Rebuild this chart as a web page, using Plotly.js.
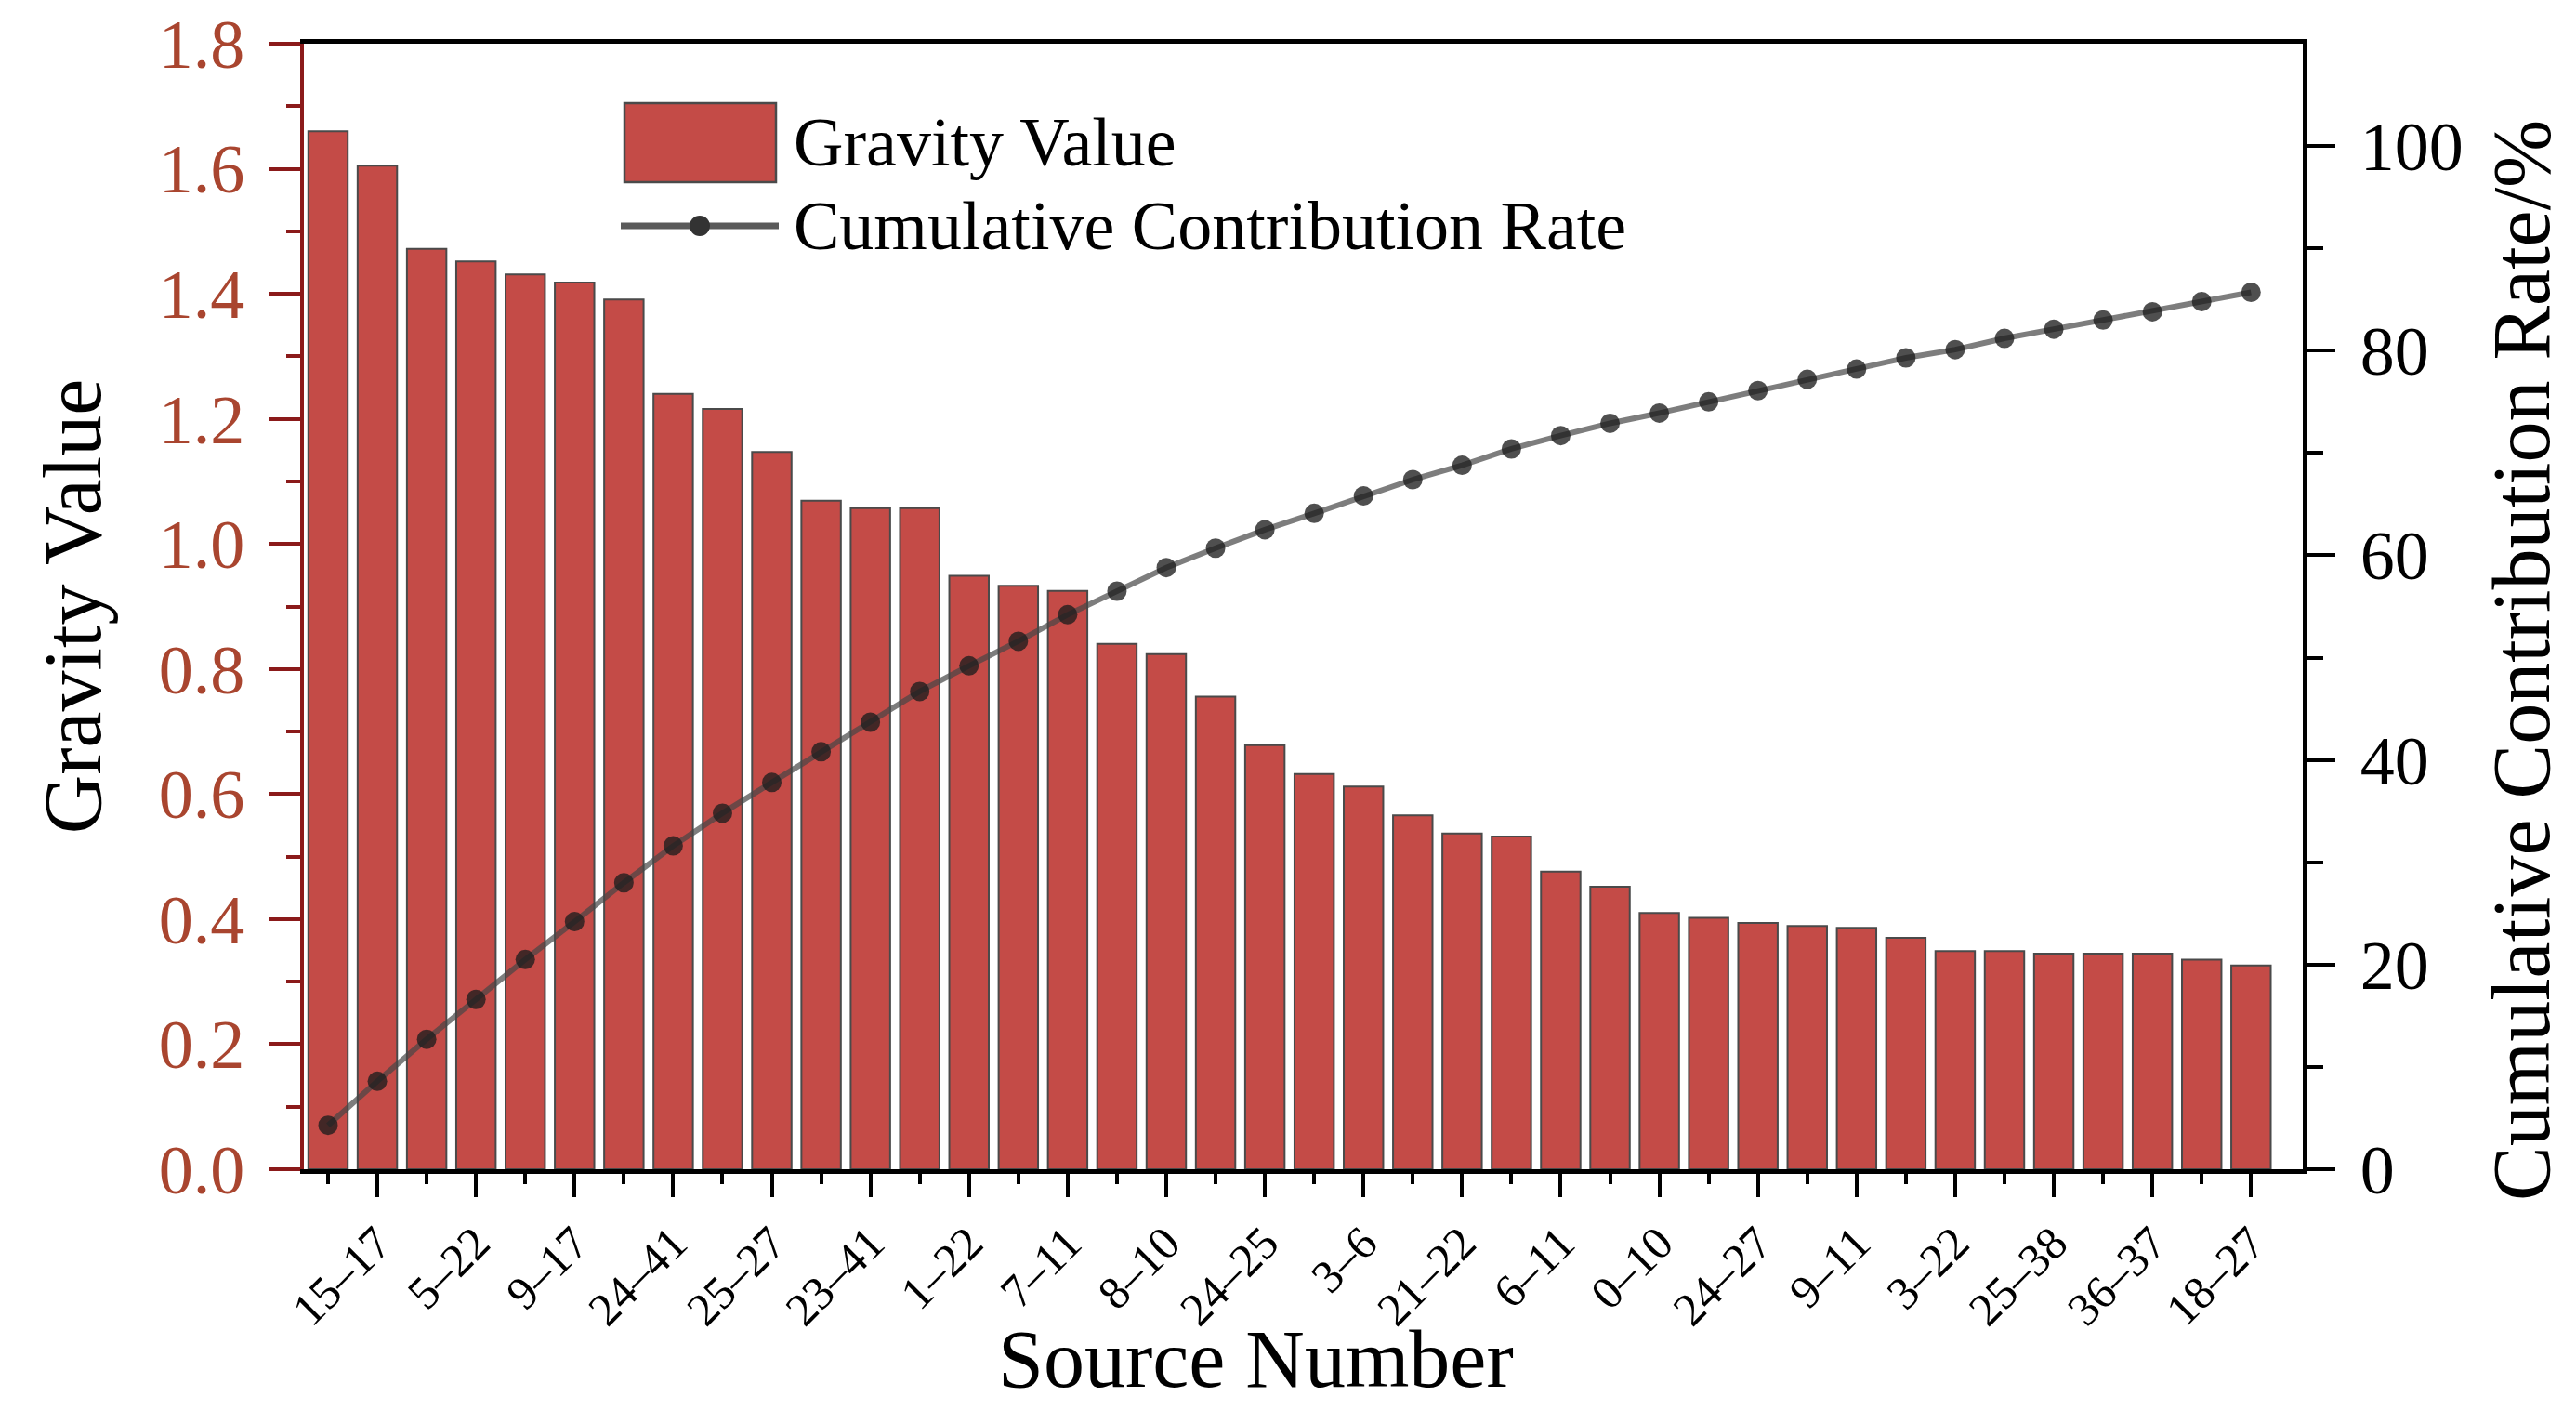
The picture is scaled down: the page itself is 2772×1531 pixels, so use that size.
<!DOCTYPE html>
<html>
<head>
<meta charset="utf-8">
<script src="https://cdn.plot.ly/plotly-3.0.1.min.js"></script>
<style>
  html, body { margin: 0; padding: 0; background: #ffffff; }
  #chart { width: 2772px; height: 1531px; }
</style>
</head>
<body>
<div id="chart"></div>
<script>
/* ---------------------------- data ---------------------------- */

// gravity value of each source pair, sorted descending (40 bars)
const GRAVITY = [
  1.660, 1.605, 1.472, 1.452, 1.431, 1.418, 1.391, 1.240, 1.216, 1.147,
  1.069, 1.057, 1.057, 0.949, 0.933, 0.925, 0.840, 0.824, 0.756, 0.678,
  0.632, 0.612, 0.566, 0.537, 0.532, 0.476, 0.452, 0.410, 0.402, 0.394,
  0.389, 0.386, 0.370, 0.349, 0.349, 0.345, 0.345, 0.345, 0.335, 0.326,
];

// cumulative contribution rate, %
const CUMULATIVE = [
  4.3, 8.6, 12.7, 16.6, 20.5, 24.2, 28.0, 31.6, 34.8, 37.8,
  40.8, 43.7, 46.7, 49.2, 51.6, 54.2, 56.5, 58.8, 60.7, 62.5,
  64.1, 65.8, 67.4, 68.8, 70.4, 71.7, 72.9, 73.9, 75.0, 76.1,
  77.2, 78.2, 79.3, 80.1, 81.2, 82.1, 83.0, 83.8, 84.8, 85.7,
];

// only every second source is labelled on the x axis
const SOURCE_LABELS = [
  "15–17", "5–22", "9–17", "24–41", "25–27", "23–41", "1–22", "7–11", "8–10", "24–25",
  "3–6", "21–22", "6–11", "0–10", "24–27", "9–11", "3–22", "25–38", "36–37", "18–27",
];
const LABEL_EVERY = 2;

const GRAVITY_TICKS = ["0.0", "0.2", "0.4", "0.6", "0.8", "1.0", "1.2", "1.4", "1.6", "1.8"];
const RATE_TICKS = ["0", "20", "40", "60", "80", "100"];

const SERIES_NAMES = ["Gravity Value", "Cumulative Contribution Rate"];
const AXIS_TITLES = ["Source Number", "Gravity Value", "Cumulative Contribution Rate/%"];

/* --------------------------- styling --------------------------- */

const SERIF = "Liberation Serif, Times New Roman, serif";
const BAR_COLOR = "#C44B47";
const LEFT_AXIS_COLOR = "#8B1A1A";
const LEFT_LABEL_COLOR = "#A9452F";

const W = 2772;
const H = 1531;
const M = { l: 327, r: 294, t: 47, b: 273 };
const PLOT_W = W - M.l - M.r;
const PLOT_H = H - M.t - M.b;

// pixel -> paper fraction, used for the hand-drawn legend and titles
function px(x) { return (x - M.l) / PLOT_W; }
function py(y) { return 1 - (y - M.t) / PLOT_H; }

/* ---------------------------- chart ---------------------------- */

function renderChart() {
  const xIdx = GRAVITY.map((_, i) => i + 1);

  const bars = {
    type: "bar",
    name: SERIES_NAMES[0],
    x: xIdx,
    y: GRAVITY,
    width: 0.8,
    marker: { color: BAR_COLOR, line: { color: "#4a4a4a", width: 2 } },
    yaxis: "y",
    showlegend: false,
  };

  const line = {
    type: "scatter",
    mode: "lines+markers",
    name: SERIES_NAMES[1],
    x: xIdx,
    y: CUMULATIVE,
    yaxis: "y2",
    line: { color: "rgba(70,70,70,0.7)", width: 6 },
    marker: { size: 21, color: "rgba(30,30,30,0.78)" },
    showlegend: false,
  };

  // legend drawn by hand so the bar swatch can be as large as the original
  const legendShapes = [
    {
      type: "rect", xref: "paper", yref: "paper",
      x0: px(672), x1: px(835), y0: py(196), y1: py(111),
      fillcolor: BAR_COLOR, line: { color: "#4a4a4a", width: 2.5 },
    },
    {
      type: "line", xref: "paper", yref: "paper",
      x0: px(668), x1: px(838), y0: py(243), y1: py(243),
      line: { color: "#5a5a5a", width: 7 },
    },
    {
      type: "circle", xref: "paper", yref: "paper",
      x0: px(742), x1: px(764), y0: py(254), y1: py(232),
      fillcolor: "#333333", line: { width: 0 },
    },
  ];

  const legendText = SERIES_NAMES.map((name, i) => ({
    xref: "paper", yref: "paper",
    x: px(852), y: py(i === 0 ? 153 : 243),
    xanchor: "left", yanchor: "middle",
    text: name, showarrow: false,
    font: { family: SERIF, size: 74, color: "#000" },
  }));

  const titleFont = { family: SERIF, size: 88, color: "#000" };
  const titles = [
    {
      xref: "paper", yref: "paper", x: px(1351), y: py(1462),
      xanchor: "center", yanchor: "middle",
      text: AXIS_TITLES[0], showarrow: false, font: titleFont,
    },
    {
      xref: "paper", yref: "paper", x: px(2713), y: py(711),
      xanchor: "center", yanchor: "middle", textangle: -90,
      text: AXIS_TITLES[2], showarrow: false, font: titleFont,
    },
  ];

  const layout = {
    width: W,
    height: H,
    margin: M,
    paper_bgcolor: "#ffffff",
    plot_bgcolor: "#ffffff",
    font: { family: SERIF, color: "#000" },
    bargap: 0.2,
    xaxis: {
      range: [0.51, 41.05],
      tickmode: "array",
      tickvals: SOURCE_LABELS.map((_, i) => (i + 1) * LABEL_EVERY),
      ticktext: SOURCE_LABELS,
      tickangle: -45,
      tickfont: { family: SERIF, size: 50, color: "#000" },
      ticks: "outside", ticklen: 25, tickwidth: 4, tickcolor: "#000",
      minor: { tickmode: "array", tickvals: xIdx, ticks: "outside", ticklen: 11, tickwidth: 4, tickcolor: "#000" },
      showline: true, linecolor: "#000", linewidth: 5, mirror: true,
      showgrid: false, zeroline: false,
      automargin: false,
    },
    yaxis: {
      range: [0, 1.8],
      tickmode: "array",
      tickvals: GRAVITY_TICKS.map(Number),
      ticktext: GRAVITY_TICKS,
      tickfont: { family: SERIF, size: 74, color: LEFT_LABEL_COLOR },
      ticks: "outside", ticklen: 33, tickwidth: 4, tickcolor: LEFT_AXIS_COLOR,
      ticklabelstandoff: 12,
      minor: { dtick: 0.1, tick0: 0, ticks: "outside", ticklen: 15, tickwidth: 4, tickcolor: LEFT_AXIS_COLOR },
      showline: true, linecolor: LEFT_AXIS_COLOR, linewidth: 4,
      showgrid: false, zeroline: false,
      title: { text: AXIS_TITLES[1], font: titleFont, standoff: 34 },
      automargin: false,
    },
    yaxis2: {
      overlaying: "y",
      side: "right",
      range: [0, 110],
      tickmode: "array",
      tickvals: RATE_TICKS.map(Number),
      ticktext: RATE_TICKS,
      tickfont: { family: SERIF, size: 74, color: "#000" },
      ticks: "outside", ticklen: 31, tickwidth: 4, tickcolor: "#000",
      ticklabelstandoff: 12,
      minor: { tickmode: "array", tickvals: [10, 30, 50, 70, 90], ticks: "outside", ticklen: 18, tickwidth: 4, tickcolor: "#000" },
      showline: true, linecolor: "#000", linewidth: 4,
      showgrid: false, zeroline: false,
      automargin: false,
    },
    shapes: legendShapes,
    annotations: legendText.concat(titles),
    showlegend: false,
  };

  Plotly.newPlot("chart", [bars, line], layout, { displayModeBar: false, staticPlot: true });
}

renderChart();
</script>
</body>
</html>
